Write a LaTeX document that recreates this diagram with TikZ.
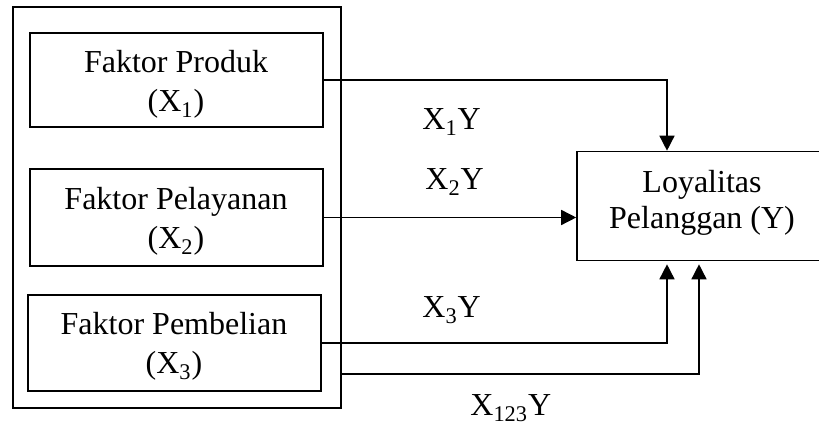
\documentclass[tikz,border=0pt]{standalone}
\usepackage{fontspec}
\setmainfont{Liberation Serif}
\usetikzlibrary{arrows.meta}
\tikzset{
  fbox/.style={draw, line width=0.8pt, inner sep=0pt},
  txt/.style={inner sep=0pt, anchor=base},
  lbl/.style={inner sep=0pt, anchor=base west},
  conn/.style={line width=0.75pt},
  arr/.style={conn, -{Triangle[length=7.5pt, width=7.5pt]}}
}
\begin{document}
\begin{tikzpicture}[x=0.5pt, y=-0.5pt, font=\fontsize{16}{19.5}\selectfont]
  \useasboundingbox (0,0) rectangle (819,426);
  \clip (0,0) rectangle (819,426);

  % enclosing frame of the three factors
  \node[fbox, line width=1pt, minimum width=164pt, minimum height=200.5pt] (outer) at (177,207.5) {};

  % independent variables
  \node[fbox, minimum width=146.5pt, minimum height=47pt] (p) at (176.5,80) {};
  \node[txt] (p1) at (176,73)  {Faktor Produk};
  \node[txt] (p2) at (176,112) {(X\textsubscript{1})};

  \node[fbox, minimum width=146.5pt, minimum height=48.5pt] (q) at (176.5,217.5) {};
  \node[txt] (q1) at (176,210) {Faktor Pelayanan};
  \node[txt] (q2) at (176,249) {(X\textsubscript{2})};

  \node[fbox, minimum width=146.5pt, minimum height=48pt] (r) at (174.5,343) {};
  \node[txt] (r1) at (174,335) {Faktor Pembelian};
  \node[txt] (r2) at (174,374) {(X\textsubscript{3})};

  % dependent variable
  \node[fbox, minimum width=125pt, minimum height=54.5pt] (y) at (702,206) {};
  \node[txt] (y1) at (702,193) {Loyalitas};
  \node[txt] (y2) at (702,229) {Pelanggan (Y)};

  % bends of the connectors
  \coordinate (a1) at (667,0);
  \coordinate (a2) at (699,0);
  \coordinate (o3) at (341,374);

  \draw[arr] (p.east) -| (a1 |- y.north);
  \draw[arr] (q.east) -- (q.east -| y.west);
  \draw[arr] (r.east) -| ([yshift=-1.5pt]a1 |- y.south);
  \draw[arr] (o3) -| ([yshift=-1.5pt]a2 |- y.south);

  % path labels
  \node[lbl] (l1) at (422,130) {X\textsubscript{1}Y};
  \node[lbl] (l2) at (425,190) {X\textsubscript{2}Y};
  \node[lbl] (l3) at (422,318) {X\textsubscript{3}Y};
  \node[lbl] (l4) at (470,416) {X\textsubscript{123}Y};
\end{tikzpicture}
\end{document}
